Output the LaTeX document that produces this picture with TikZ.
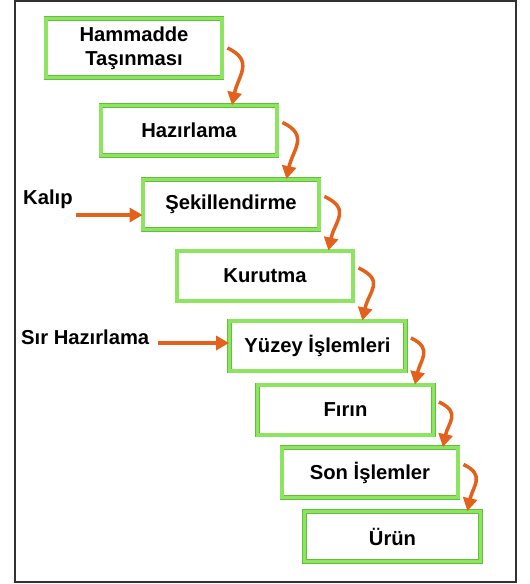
\documentclass[tikz,border=0pt]{standalone}
\usepackage{fontspec}
\setmainfont{Liberation Sans}
\usetikzlibrary{arrows.meta}
\definecolor{boxgreen}{RGB}{98,190,60}
\definecolor{lightgreen}{RGB}{140,228,95}
\definecolor{flow}{RGB}{228,97,27}
\definecolor{framegray}{RGB}{50,50,50}
\begin{document}
\begin{tikzpicture}[x=0.2mm,y=-0.2mm]
            \tikzstyle{every node}=[font=\fontsize{11.5}{13.7}\selectfont\bfseries]
            \tikzstyle{stage}=[draw=boxgreen,double=lightgreen,double distance=1.8pt,line width=0.5pt,fill=white,minimum width=35.2mm,minimum height=10mm,align=center,inner sep=0pt]
            \tikzstyle{flowarrow}=[draw=flow,line width=2pt,-{Triangle[length=2.6mm,width=2.8mm]}]
            \useasboundingbox (0,0) rectangle (529,584);
            \draw[framegray,line width=1.1pt] (15,1) rectangle (516,582);
            \draw (134,48) node [stage,minimum height=11.8mm] (1) {Hammadde\\Taşınması};
            \draw (189,130.5) node [stage] (2) {Hazırlama};
            \draw (231,204.5) node [stage] (3) {Şekillendirme};
            \draw (265,276) node [stage] (4) {Kurutma};
            \draw (317.5,346) node [stage] (5) {Yüzey İşlemleri};
            \draw (345.5,410) node [stage] (6) {Fırın};
            \draw (370,472.5) node [stage] (7) {Son İşlemler};
            \draw (392.5,536.5) node [stage] (8) {Ürün};
            \draw (17,199) node [anchor=west] (k) {Kalıp};
            \draw (15,337) node [anchor=west] (s) {Sır Hazırlama};
            \coordinate (k0) at (76,215);
            \coordinate (s0) at (158,343);
            \draw[flowarrow] ([xshift=1mm]1.east) .. controls +(-25:6mm) and +(78:6mm) .. ([xshift=1.9mm]1.east |- 2.north);
            \draw[flowarrow] ([shift={(1mm,1.6mm)}]2.east) .. controls +(-25:6mm) and +(78:6mm) .. ([xshift=1.8mm]2.east |- 3.north);
            \draw[flowarrow] ([shift={(1mm,1.6mm)}]3.east) .. controls +(-25:6mm) and +(78:6mm) .. ([xshift=1.8mm]3.east |- 4.north);
            \draw[flowarrow] ([shift={(1mm,1.6mm)}]4.east) .. controls +(-25:6mm) and +(78:6mm) .. ([xshift=1.8mm]4.east |- 5.north);
            \draw[flowarrow] ([shift={(1mm,1.6mm)}]5.east) .. controls +(-25:5mm) and +(78:5mm) .. ([xshift=1.8mm]5.east |- 6.north);
            \draw[flowarrow] ([shift={(1mm,1.6mm)}]6.east) .. controls +(-25:5mm) and +(78:5mm) .. ([xshift=1.8mm]6.east |- 7.north);
            \draw[flowarrow] ([shift={(1mm,1.6mm)}]7.east) .. controls +(-25:5mm) and +(78:5mm) .. ([xshift=1.8mm]7.east |- 8.north);
            \draw[flowarrow] (k0) -- (k0 -| 3.west);
            \draw[flowarrow] (s0) -- (s0 -| 5.west);
        \end{tikzpicture}
\end{document}
